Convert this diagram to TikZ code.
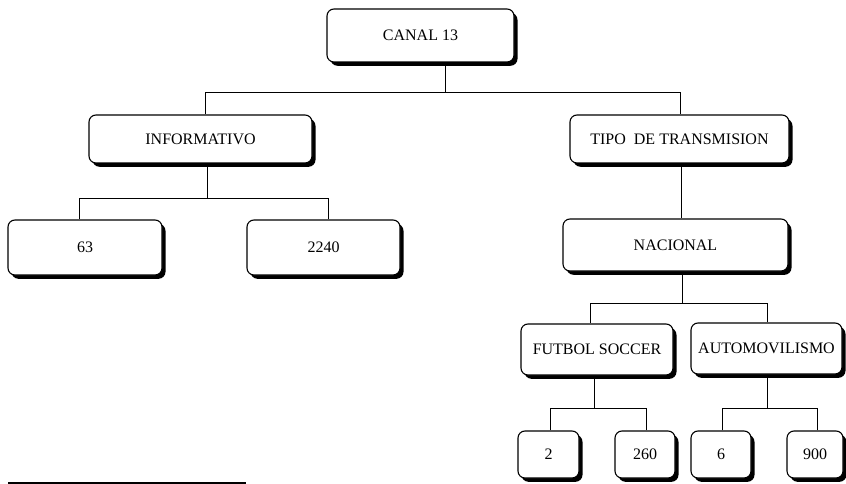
\documentclass[tikz,border=0pt]{standalone}
\usepackage{fontspec}
\setmainfont{Liberation Serif}
\usetikzlibrary{shadows}
\tikzset{
  box/.style={draw, line width=1.1pt, rounded corners=7pt, fill=white, inner sep=0pt,
    font=\fontsize{16}{19}\selectfont,
    drop shadow={shadow xshift=3.5pt, shadow yshift=-3.8pt, fill=black, opacity=1}},
  conn/.style={line width=0.8pt}
}
\begin{document}
\begin{tikzpicture}[x=1pt, y=-1pt]
\useasboundingbox (0,0) rectangle (846,484);
% level 0
\node[box, minimum width=187pt, minimum height=53pt] (canal) at (420.5,35.5) {CANAL 13};
% level 1
\node[box, minimum width=223pt, minimum height=48pt] (inf) at (200.5,139) {INFORMATIVO};
\node[box, minimum width=219pt, minimum height=48pt] (tipo) at (679.5,139) {TIPO~~DE TRANSMISION};
% level 2
\node[box, minimum width=154pt, minimum height=55pt] (n63) at (85,247.5) {63};
\node[box, minimum width=153pt, minimum height=55pt] (n2240) at (323.5,247.5) {2240};
\node[box, minimum width=225pt, minimum height=52pt] (nac) at (675.5,245) {NACIONAL};
% level 3
\node[box, minimum width=152pt, minimum height=51pt] (fut) at (597,349.5) {FUTBOL SOCCER};
\node[box, minimum width=151pt, minimum height=51pt] (auto) at (766.5,348.5) {AUTOMOVILISMO};
% level 4
\node[box, minimum width=61pt, minimum height=47pt] (n2) at (548.5,454.5) {2};
\node[box, minimum width=60pt, minimum height=47pt] (n260) at (645,454.5) {260};
\node[box, minimum width=60pt, minimum height=47pt] (n6) at (721,454.5) {6};
\node[box, minimum width=56pt, minimum height=47pt] (n900) at (815,454.5) {900};
% connectors
\draw[conn] ([xshift=24.5pt]canal.south) -- ++(0,30) coordinate (b1);
\draw[conn] ([xshift=4.5pt]inf.north) |- (b1);
\draw[conn] ([xshift=0.5pt]tipo.north) |- (b1);
\draw[conn] ([xshift=6.5pt]inf.south) -- ++(0,35) coordinate (b2);
\draw[conn] ([xshift=-6pt]n63.north) |- (b2);
\draw[conn] ([xshift=4.5pt]n2240.north) |- (b2);
\draw[conn] ([xshift=1.5pt]tipo.south) -- ([xshift=5.5pt]nac.north);
\draw[conn] ([xshift=6.5pt]nac.south) -- ++(0,32) coordinate (b3);
\draw[conn] ([xshift=-7pt]fut.north) |- (b3);
\draw[conn] ([xshift=0.5pt]auto.north) |- (b3);
\draw[conn] ([xshift=-3pt]fut.south) -- ++(0,33) coordinate (b4);
\draw[conn] ([xshift=1.5pt]n2.north) |- (b4);
\draw[conn] ([xshift=1pt]n260.north) |- (b4);
\draw[conn] ([xshift=0.5pt]auto.south) -- ++(0,34) coordinate (b5);
\draw[conn] ([xshift=1pt]n6.north) |- (b5);
\draw[conn] ([xshift=2pt]n900.north) |- (b5);
% bottom-left rule
\coordinate (r1) at (8,483);
\coordinate (r2) at (246,483);
\draw[line width=1.6pt] (r1) -- (r2);
\end{tikzpicture}
\end{document}
